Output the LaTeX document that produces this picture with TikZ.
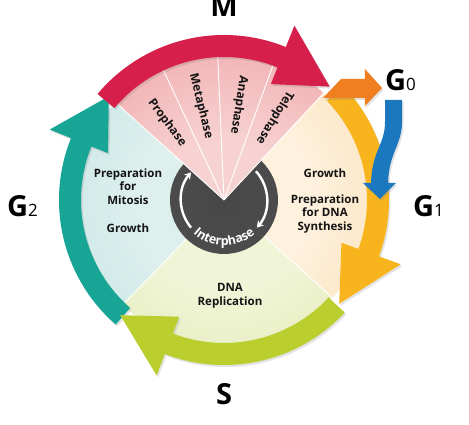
\documentclass[tikz,border=0pt]{standalone}
\usepackage{fontspec}
\setmainfont{Open Sans}
\usetikzlibrary{decorations.text,shadows,arrows.meta}
\definecolor{redA}{HTML}{D71F4B}
\definecolor{orangeA}{HTML}{F07F22}
\definecolor{yellowA}{HTML}{F8B41C}
\definecolor{greenA}{HTML}{BACE2E}
\definecolor{tealA}{HTML}{17A696}
\definecolor{blueA}{HTML}{1C78BE}
\definecolor{pinkIn}{HTML}{F7D2D2}
\definecolor{pinkMid}{HTML}{F1A9AA}
\definecolor{pinkOut}{HTML}{EB878B}
\definecolor{peachIn}{HTML}{FEF1DE}
\definecolor{peachOut}{HTML}{FAD39A}
\definecolor{limeIn}{HTML}{F1F5D8}
\definecolor{limeOut}{HTML}{D8E3A0}
\definecolor{cyanIn}{HTML}{DDF0EE}
\definecolor{cyanOut}{HTML}{B6DDDA}
\definecolor{txtC}{HTML}{141414}
\pgfdeclareradialshading{shM}{\pgfpoint{0bp}{0bp}}{color(0bp)=(pinkIn); color(10bp)=(pinkIn); color(32bp)=(pinkMid); color(50bp)=(pinkOut)}
\pgfdeclareradialshading{shG}{\pgfpoint{0bp}{0bp}}{color(0bp)=(peachIn); color(15bp)=(peachIn); color(50bp)=(peachOut)}
\pgfdeclareradialshading{shS}{\pgfpoint{0bp}{0bp}}{color(0bp)=(limeIn); color(15bp)=(limeIn); color(50bp)=(limeOut)}
\pgfdeclareradialshading{shT}{\pgfpoint{0bp}{0bp}}{color(0bp)=(cyanIn); color(15bp)=(cyanIn); color(50bp)=(cyanOut)}
\pgfdeclareradialshading{shDisk}{\pgfpoint{0bp}{0bp}}{color(0bp)=(black!72); color(30bp)=(black!70); color(42bp)=(black!55); color(46bp)=(black!35); color(48.5bp)=(black!70); color(50bp)=(black!85)}
\newcommand\cycarrow[4]{%
  \fill[#1, drop shadow={opacity=0.22,shadow xshift=1.5pt,shadow yshift=-2pt}]
    (#2:165) arc[start angle=#2,end angle=#3,radius=165] -- (#3:188) -- (#4:155)
    -- (#3:125) -- (#3:143) arc[start angle=#3,end angle=#2,radius=143] -- cycle;}
\newcommand\subl[1]{{\fontsize{17}{17}\selectfont\mdseries #1}}
\tikzset{
  biglab/.style={font=\fontsize{29}{29}\selectfont\bfseries, text=black, inner sep=0pt},
  sectxt/.style={font=\fontsize{11.5}{13.5}\selectfont\bfseries, text=txtC, align=center, inner sep=0pt},
  phtxt/.style={font=\fontsize{12}{12}\selectfont\bfseries, text=txtC, inner sep=0pt},
  sepline/.style={white, line width=0.9pt},
  warrow/.style={white, line width=2.4pt, -{Stealth[length=6.5pt,width=8pt]}}
}
\begin{document}
\begin{tikzpicture}[x=1pt,y=1pt]
\useasboundingbox (-224,-225) rectangle (245,200);
\fill[white] (-224,-225) rectangle (245,200);
% pastel sectors
\begin{scope}
\clip (0,0) -- (138:146) arc[start angle=138,end angle=226,radius=146] -- cycle;
\shade[shading=shT] (0,0) circle (146);
\end{scope}
\begin{scope}
\clip (0,0) -- (226:146) arc[start angle=226,end angle=318,radius=146] -- cycle;
\shade[shading=shS] (0,0) circle (146);
\end{scope}
\begin{scope}
\clip (0,0) -- (-42:146) arc[start angle=-42,end angle=47,radius=146] -- cycle;
\shade[shading=shG] (0,0) circle (146);
\end{scope}
\draw[sepline] (0,0) -- (226:146);
\draw[sepline] (0,0) -- (-42:146);
% central disk
\shade[shading=shDisk] (0,0) circle (54);
% M sector
\begin{scope}
\clip (0,0) -- (47:146) arc[start angle=47,end angle=138,radius=146] -- cycle;
\shade[shading=shM] (0,0) circle (146);
\end{scope}
\foreach \a in {47,70,92.5,115,138} \draw[sepline] (0,0) -- (\a:146);
% phase labels
\node[phtxt, rotate=-53.5] (pro) at (126.5:96) {Prophase};
\node[phtxt, rotate=-76] (meta) at (103.8:97) {Metaphase};
\node[phtxt, rotate=-98.8] (ana) at (81.2:96) {Anaphase};
\node[phtxt, rotate=-121.5] (telo) at (58.5:97) {Telophase};
% white arrows in disk
\draw[warrow] (220:43) arc[start angle=220,end angle=140,radius=43];
\draw[warrow] (42:43) arc[start angle=42,end angle=-40,radius=43];
\path[decorate, decoration={text along path, text align=center,
  text={|\fontsize{12.5}{12.5}\selectfont\bfseries\color{white}|Interphase}}]
  (220:45.5) arc[start angle=220,end angle=320,radius=45.5];
% outer arrows
\cycarrow{tealA}{229}{158}{138}
\cycarrow{greenA}{-43}{-111}{-132}
\cycarrow{yellowA}{44}{-20}{-42}
\cycarrow{redA}{140}{68}{47}
% G0 arrow (orange)
\fill[orangeA, drop shadow={opacity=0.22,shadow xshift=1.5pt,shadow yshift=-2pt}]
  (99,102) -- (141,102) -- (141,94) -- (158,112) -- (141,131) -- (141,121) -- (117,121) -- cycle;
% blue arrow
\fill[blueA, drop shadow={opacity=0.22,shadow xshift=1.5pt,shadow yshift=-2pt}]
  (161,100) -- (161,78) .. controls (161,55) and (148,50) .. (147,17)
  -- (139,17) -- (156,1) -- (172,17) -- (164,17)
  .. controls (165,48) and (178,55) .. (178,78) -- (178,100) -- cycle;
% sector texts
\node[sectxt] (g2a) at (-96,13.5) {Preparation\\for\\Mitosis};
\node[sectxt] (g2b) at (-96,-28) {Growth};
\node[sectxt] (g1a) at (101,27) {Growth};
\node[sectxt] (g1b) at (101,-14) {Preparation\\for DNA\\Synthesis};
\node[sectxt] (sa) at (6,-96) {DNA\\Replication};
% big labels
\node[biglab, anchor=base] (M) at (0,183) {M};
\node[biglab, anchor=base west] (G0) at (161,109) {G\subl{0}};
\node[biglab, anchor=base west] (G1) at (189,-17) {G\subl{1}};
\node[biglab, anchor=base west] (G2) at (-217,-17) {G\subl{2}};
\node[biglab, anchor=base] (S) at (0,-205) {S};
\end{tikzpicture}
\end{document}
